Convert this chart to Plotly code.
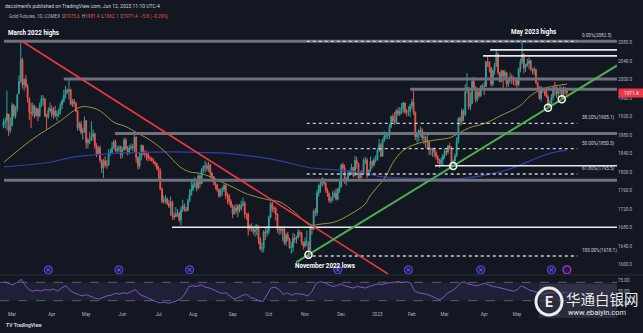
import plotly.graph_objects as go
import pandas as pd

# ---------------- DATA ----------------
holidays = ["2022-04-15", "2022-05-30", "2022-06-20", "2022-07-04", "2022-09-05",
            "2022-11-24", "2022-12-26", "2023-01-02", "2023-01-16", "2023-02-20",
            "2023-04-07", "2023-05-29"]
dates = [d for d in pd.bdate_range("2022-02-22", "2023-06-12")
         if d.strftime("%Y-%m-%d") not in holidays]

opens = [
    1900, 1907, 1911, 1925, 1890,  # Feb 22
    1900, 1944, 1922, 1936, 1970, 1995, 2043, 1988, 2000, 1985, 1958, 1929, 1927, 1943, 1921, 1936, 1921, 1944, 1958, 1958, 1922, 1919, 1933,
    1937, 1924, 1932, 1922, 1925, 1931, 1945, 1954, 1966, 1977, 1974, 1978, 1946, 1953, 1948, 1931, 1896, 1904, 1886, 1889,
    1911, 1863, 1869, 1870, 1876, 1882, 1857, 1840, 1852, 1825, 1809, 1824, 1815, 1815, 1841, 1842, 1853, 1865, 1846, 1850, 1855,
    1837, 1848, 1869, 1850, 1841, 1852, 1854, 1852, 1875, 1831, 1813, 1834, 1857, 1840, 1838, 1838, 1830, 1829, 1824, 1821, 1818,
    1807, 1801, 1763, 1736, 1739, 1742, 1731, 1726, 1735, 1705, 1703, 1709, 1711, 1696, 1719, 1727, 1719, 1717, 1737, 1750,
    1762, 1772, 1775, 1765, 1791, 1775, 1805, 1812, 1813, 1807, 1815, 1797, 1790, 1776, 1771, 1762, 1748, 1761, 1762, 1771, 1749, 1749, 1736,
    1726, 1709, 1722, 1716, 1727, 1720, 1728, 1732, 1709, 1709, 1677, 1683, 1678, 1671, 1675, 1681, 1655, 1634, 1636, 1670, 1668,
    1672, 1702, 1731, 1721, 1721, 1709, 1675, 1676, 1673, 1677, 1648, 1664, 1655, 1636, 1637, 1657, 1654, 1658, 1669, 1668, 1648,
    1640, 1649, 1646, 1631, 1681, 1676, 1715, 1712, 1755, 1771, 1776, 1779, 1776, 1761, 1754, 1738, 1740, 1746, 1754, 1741, 1763,
    1768, 1815, 1809, 1781, 1782, 1798, 1800, 1810, 1792, 1825, 1818, 1787, 1800, 1797, 1825, 1826, 1792, 1804, 1823, 1815, 1826,
    1826, 1846, 1859, 1834, 1869, 1877, 1878, 1878, 1898, 1920, 1910, 1907, 1932, 1926, 1931, 1938, 1949, 1930, 1929, 1932,
    1942, 1951, 1929, 1876, 1880, 1890, 1890, 1874, 1875, 1865, 1866, 1848, 1850, 1850, 1842, 1834, 1825, 1818, 1826,
    1836, 1845, 1843, 1856, 1852, 1820, 1824, 1835, 1868, 1916, 1910, 1932, 1923, 1980, 1982, 1941, 1949, 1996, 1983, 1956, 1973, 1965, 1984,
    1986, 1985, 2038, 2037, 2026, 1990, 2019, 2030, 2055, 2015, 1995, 2019, 2007, 2015, 1990, 2000, 2005, 2000, 1999,
    1999, 1989, 2023, 2038, 2055, 2025, 2030, 2035, 2040, 2023, 2019, 2022, 1994, 1984, 1959, 1981, 1975, 1975, 1963, 1943, 1944, 1961,
    1982, 1979, 1969, 1975, 1981, 1958, 1978, 1975.6,
]
highs = [
    1915, 1918, 1976, 1912, 1918,
    1950, 1947, 1942, 1970, 2009, 2079, 2047, 2003, 2010, 1990, 1962, 1950, 1950, 1945, 1940, 1938, 1950, 1966, 1966, 1960, 1926, 1940, 1950,
    1944, 1940, 1943, 1933, 1937, 1950, 1958, 1978, 1986, 1980, 1998, 1980, 1958, 1958, 1952, 1934, 1909, 1910, 1896, 1920,
    1911, 1874, 1886, 1910, 1892, 1885, 1862, 1856, 1857, 1827, 1828, 1834, 1826, 1849, 1850, 1865, 1870, 1870, 1856, 1858, 1857,
    1854, 1874, 1874, 1856, 1858, 1862, 1860, 1880, 1877, 1833, 1842, 1860, 1858, 1847, 1846, 1842, 1835, 1832, 1830, 1824, 1820,
    1813, 1808, 1766, 1748, 1750, 1745, 1739, 1747, 1738, 1712, 1724, 1720, 1714, 1725, 1740, 1732, 1724, 1742, 1762, 1782,
    1780, 1789, 1782, 1796, 1794, 1808, 1814, 1824, 1820, 1822, 1818, 1800, 1791, 1779, 1774, 1764, 1765, 1768, 1775, 1772, 1755, 1752, 1741,
    1730, 1728, 1731, 1730, 1731, 1738, 1745, 1737, 1711, 1712, 1687, 1689, 1681, 1686, 1687, 1685, 1659, 1647, 1674, 1680, 1683,
    1706, 1735, 1736, 1726, 1725, 1711, 1683, 1683, 1681, 1683, 1668, 1670, 1657, 1648, 1668, 1666, 1662, 1677, 1674, 1670, 1650,
    1658, 1673, 1650, 1684, 1687, 1719, 1722, 1761, 1773, 1783, 1789, 1786, 1777, 1765, 1755, 1747, 1758, 1760, 1764, 1765, 1782,
    1818, 1820, 1816, 1789, 1803, 1805, 1818, 1811, 1835, 1833, 1820, 1802, 1805, 1830, 1833, 1830, 1805, 1833, 1825, 1831, 1836,
    1851, 1871, 1863, 1872, 1888, 1883, 1886, 1904, 1922, 1926, 1930, 1936, 1940, 1940, 1949, 1952, 1950, 1936, 1942, 1947,
    1958, 1975, 1931, 1883, 1892, 1898, 1895, 1881, 1878, 1886, 1866, 1853, 1852, 1853, 1847, 1836, 1829, 1832, 1838,
    1849, 1848, 1858, 1863, 1855, 1827, 1840, 1875, 1918, 1920, 1938, 1935, 1990, 2014, 1983, 1972, 2003, 2006, 1985, 1977, 1976, 1988, 1990,
    1995, 2040, 2051, 2040, 2027, 2022, 2036, 2063, 2058, 2016, 2021, 2020, 2021, 2015, 2004, 2015, 2011, 2007, 2005,
    2005, 2025, 2045, 2083, 2057, 2034, 2045, 2048, 2043, 2025, 2028, 2023, 1994, 1985, 1986, 1983, 1982, 1982, 1967, 1955, 1968, 1985,
    1995, 1985, 1982, 1986, 1983, 1985, 1984, 1981.4,
]
lows = [
    1894, 1895, 1890, 1878, 1884,
    1899, 1917, 1915, 1930, 1968, 1993, 1980, 1975, 1981, 1950, 1912, 1895, 1920, 1916, 1920, 1910, 1918, 1940, 1944, 1918, 1891, 1915, 1929,
    1918, 1915, 1918, 1911, 1918, 1924, 1936, 1950, 1959, 1968, 1957, 1944, 1940, 1941, 1929, 1890, 1889, 1881, 1870, 1884,
    1850, 1851, 1860, 1866, 1868, 1850, 1832, 1837, 1820, 1798, 1787, 1810, 1807, 1813, 1835, 1842, 1850, 1843, 1840, 1843, 1828,
    1830, 1846, 1847, 1836, 1838, 1848, 1845, 1842, 1820, 1805, 1807, 1825, 1836, 1831, 1825, 1823, 1824, 1822, 1817, 1812, 1804,
    1785, 1761, 1732, 1731, 1732, 1728, 1722, 1705, 1697, 1696, 1702, 1703, 1691, 1684, 1713, 1714, 1713, 1715, 1735, 1749,
    1758, 1766, 1758, 1762, 1765, 1773, 1798, 1798, 1802, 1800, 1787, 1780, 1771, 1762, 1757, 1744, 1745, 1749, 1756, 1741, 1731, 1728, 1722,
    1700, 1708, 1710, 1702, 1712, 1716, 1725, 1700, 1696, 1662, 1671, 1671, 1665, 1660, 1663, 1644, 1630, 1625, 1626, 1653, 1660,
    1665, 1700, 1713, 1711, 1695, 1668, 1664, 1665, 1651, 1642, 1640, 1650, 1634, 1623, 1627, 1646, 1645, 1656, 1660, 1642, 1632,
    1636, 1640, 1618.1, 1630, 1664, 1674, 1704, 1705, 1747, 1755, 1768, 1771, 1755, 1746, 1733, 1732, 1736, 1746, 1738, 1739, 1755,
    1766, 1800, 1774, 1771, 1779, 1791, 1797, 1788, 1790, 1807, 1782, 1783, 1787, 1794, 1817, 1786, 1793, 1800, 1808, 1811, 1820,
    1824, 1844, 1833, 1833, 1865, 1870, 1871, 1871, 1895, 1908, 1902, 1904, 1921, 1921, 1925, 1928, 1925, 1920, 1921, 1919,
    1936, 1923, 1869, 1864, 1866, 1876, 1867, 1860, 1852, 1849, 1836, 1836, 1833, 1832, 1827, 1818, 1809, 1812, 1814,
    1829, 1835, 1838, 1848, 1815, 1813, 1818, 1832, 1862, 1900, 1902, 1910, 1920, 1970, 1935, 1934, 1947, 1979, 1950, 1952, 1960, 1962, 1978,
    1966, 1984, 2027, 2015, 1985, 1985, 2010, 2027, 2010, 1994, 1994, 1976, 2002, 1983, 1984, 1993, 1990, 1988, 1986,
    1982, 1985, 2015, 2033, 2013, 2016, 2028, 2022, 2018, 2011, 2010, 1990, 1980, 1956, 1952, 1971, 1965, 1960, 1937, 1940, 1941, 1955,
    1965, 1960, 1960, 1968, 1957, 1958, 1968, 1962.1,
]
closes = [
    1907, 1910, 1926, 1889, 1900,
    1944, 1922, 1936, 1966, 1995, 2043, 1988, 2000, 1985, 1960, 1929, 1927, 1943, 1921, 1936, 1921, 1944, 1958, 1958, 1922, 1919, 1933, 1937,
    1924, 1932, 1922, 1925, 1931, 1945, 1954, 1966, 1977, 1974, 1978, 1946, 1953, 1948, 1931, 1896, 1904, 1886, 1889, 1911,
    1863, 1869, 1868, 1875, 1882, 1857, 1840, 1852, 1825, 1808, 1824, 1815, 1815, 1841, 1842, 1853, 1865, 1846, 1850, 1851, 1837,
    1848, 1869, 1850, 1841, 1852, 1854, 1852, 1875, 1831, 1813, 1834, 1857, 1840, 1838, 1838, 1830, 1829, 1824, 1821, 1818, 1807,
    1801, 1763, 1736, 1739, 1742, 1731, 1726, 1735, 1705, 1703, 1709, 1711, 1696, 1719, 1727, 1719, 1717, 1737, 1750, 1762,
    1772, 1775, 1765, 1791, 1775, 1805, 1812, 1813, 1807, 1815, 1797, 1790, 1776, 1771, 1762, 1748, 1761, 1762, 1771, 1749, 1749, 1736, 1726,
    1709, 1722, 1716, 1727, 1720, 1728, 1732, 1709, 1709, 1677, 1683, 1678, 1671, 1675, 1681, 1655, 1634, 1636, 1670, 1668, 1672,
    1702, 1731, 1721, 1721, 1709, 1675, 1676, 1673, 1677, 1648, 1664, 1655, 1636, 1637, 1657, 1654, 1658, 1669, 1668, 1648, 1640,
    1649, 1650, 1630, 1681, 1676, 1715, 1712, 1755, 1771, 1776, 1779, 1776, 1761, 1754, 1738, 1740, 1746, 1754, 1741, 1763, 1768,
    1815, 1809, 1781, 1782, 1798, 1800, 1810, 1792, 1825, 1818, 1787, 1800, 1797, 1825, 1826, 1792, 1804, 1823, 1815, 1826, 1826,
    1846, 1859, 1834, 1869, 1877, 1878, 1878, 1898, 1920, 1910, 1907, 1932, 1926, 1931, 1938, 1949, 1930, 1929, 1932, 1942,
    1951, 1929, 1876, 1880, 1890, 1890, 1874, 1875, 1865, 1866, 1848, 1850, 1850, 1842, 1834, 1825, 1818, 1826, 1836,
    1845, 1843, 1856, 1852, 1820, 1824, 1835, 1867, 1916, 1910, 1932, 1923, 1973, 1982, 1941, 1949, 1996, 1983, 1956, 1973, 1965, 1984, 1986,
    1985, 2038, 2037, 2026, 1990, 2019, 2030, 2055, 2015, 1995, 2019, 2007, 2015, 1990, 2000, 2005, 2000, 1999, 1999,
    1989, 2023, 2038, 2055, 2025, 2030, 2035, 2040, 2023, 2019, 2022, 1994, 1984, 1959, 1981, 1975, 1975, 1963, 1943, 1944, 1961, 1982,
    1979, 1969, 1975, 1981, 1958, 1978, 1977.2, 1971.4,
]

# moving averages (bar index, price)
ma50_idx = [0.3, 15.4, 32.8, 44.4, 50.2, 56.0, 64.7, 70.5, 76.3, 85.0, 93.7, 102.4, 108.2, 114.0, 119.8,
            125.7, 131.5, 140.2, 143.1, 154.7, 160.5, 169.2, 177.9, 183.7, 192.4, 201.1, 209.8, 212.7,
            221.4, 227.2, 233.0, 241.7, 250.4, 259.1, 264.9, 270.7, 279.5, 288.2, 299.8, 305.6, 312.4, 320, 327]
ma50_val = [1821, 1867, 1910, 1940, 1940, 1932, 1906, 1899, 1887, 1869, 1844, 1811, 1800, 1797, 1790,
            1780, 1770, 1754, 1750, 1739, 1735, 1712, 1685, 1687, 1692, 1708, 1730, 1748,
            1788, 1827, 1849, 1863, 1869, 1874, 1885, 1896, 1905, 1921, 1943, 1964, 1979, 1986, 1990]
ma200_idx = [0.3, 27.0, 38.6, 44.4, 56.0, 70.5, 87.9, 106.3, 125.7, 140.2, 160.5, 177.9, 195.3, 209.8,
             218.5, 241.7, 266.6, 288.2, 299.8, 315.3, 326.9]
ma200_val = [1811, 1821, 1831, 1834, 1838, 1841, 1843, 1843, 1841, 1836, 1824, 1809, 1804, 1798,
             1790, 1786, 1786, 1800, 1815, 1838, 1847]

# RSI(14) (bar index, value)
rsi_idx = [0.4, 2.7, 5.1, 7.5, 10.4, 12.3, 14.7, 17.0, 19.4, 21.8, 24.2, 26.6, 29.0, 31.3, 33.7, 36.1, 38.5,
           40.9, 43.2, 45.6, 48.0, 50.4, 52.8, 55.2, 57.5, 59.9, 62.3, 64.7, 67.1, 69.5, 71.8, 74.2, 76.6,
           79.0, 81.4, 83.8, 86.1, 88.5, 90.9, 93.3, 95.7, 98.1, 100.4, 102.8, 105.2, 107.6, 110.0, 112.4,
           114.7, 117.1, 119.5, 121.9, 124.3, 126.7, 129.0, 131.4, 133.8, 136.2, 138.6, 141.0, 143.3, 145.7,
           148.1, 150.5, 152.9, 155.2, 157.6, 160.0, 162.4, 164.8, 167.2, 169.6, 172.0, 174.3, 176.7, 179.1,
           181.5, 183.8, 186.2, 188.6, 191.0, 193.4, 195.8, 198.1, 200.5, 202.9, 205.3, 207.7, 210.1, 212.4,
           214.8, 217.2, 219.6, 222.0, 224.4, 226.7, 229.1, 231.5, 233.9, 236.3, 238.6, 241.0, 243.4, 245.8,
           248.2, 250.6, 253.0, 255.3, 257.7, 260.1, 262.5, 264.9, 267.2, 269.6, 272.0, 274.4, 276.8, 279.2,
           281.5, 283.9, 286.3, 288.7, 291.1, 293.5, 295.8, 298.2, 300.6, 303.0, 305.4, 307.8, 310.1, 312.5,
           314.9, 317.3, 319.7, 322.1, 324.4, 327.0]
rsi_val = [71.4, 67.9, 64.5, 69.3, 76.2, 64.5, 54.1, 50.7, 52.7, 50.7, 54.1, 52.7, 55.5, 50.7, 57.6, 62.4, 52.7,
           47.2, 43.8, 40.3, 43.1, 39.0, 36.2, 33.4, 36.9, 40.3, 41.7, 45.8, 44.5, 47.2, 45.8, 50.0, 54.1,
           43.8, 40.3, 36.9, 32.1, 27.9, 25.2, 26.5, 24.5, 26.5, 30.0, 33.4, 43.8, 61.0, 62.4, 61.0,
           64.5, 59.6, 57.6, 54.1, 50.7, 45.8, 47.2, 40.3, 33.4, 36.9, 41.7, 43.8, 36.9, 34.8,
           30.0, 27.9, 43.8, 57.6, 59.6, 54.1, 43.8, 47.2, 41.7, 45.8, 44.5, 43.8, 40.3, 50.7,
           67.9, 71.4, 69.3, 64.5, 61.0, 62.4, 66.5, 62.4, 59.6, 57.6, 61.0, 59.6, 57.6, 61.0,
           64.5, 66.5, 64.5, 67.9, 69.3, 70.7, 71.4, 69.3, 71.4, 67.9, 50.7, 47.2, 45.8, 43.8,
           40.3, 36.9, 32.1, 36.9, 47.2, 50.7, 57.6, 67.9, 71.4, 66.5, 64.5, 62.4, 64.5, 67.9,
           64.5, 61.0, 59.6, 57.6, 54.1, 52.7, 50.7, 54.1, 62.4, 57.6, 52.7, 50.7, 47.2, 43.8,
           45.8, 48.1, 47.2, 45.8, 47.2, 48.1]

# drawings: horizontal levels (price, starting bar)
grey_level = [2082.5, 2001.0, 1883.0, 1782.0, 1979.0]
grey_start = [0.3, 35.0, 64.7, 0.3, 236.0]
white_level = [1680.2, 1813.5, 2064.0, 2051.0]
white_start = [97.8, 250.4, 282.4, 278.3]
fib_level = [2082.5, 1905.1, 1850.3, 1795.5, 1618.1]
fib_label = ["0.00%(2082.5)", "38.20%(1905.1)", "50.00%(1850.3)", "61.80%(1795.5)", "100.00%(1618.1)"]
fib_span = [176.0, 333.0]
red_trend_idx = [10.56, 223.2]
red_trend_price = [2083.2, 1579.2]
green_anchor_idx = [177, 324]
green_anchor_price = [1621.0, 1957.0]
green_span = [169.8, 356.1]
touch_idx = [177, 261, 316, 324]
rollover_idx = [26, 67, 108, 194, 235, 277, 318]
news_idx = [327]
last_price = 1971.4

# ---------------- LAYOUT HELPERS ----------------
W, H = 643, 333
X0, X1 = -2.03, 356.06
XD = 617 / W
def py(y):  # pixel row -> paper
    return 1 - y / H
def px(x):
    return x / W

Y_MAIN = [1579.2, 2148.1]
Y_RSI = [9.8, 83.7]

n = min(len(dates), len(opens), len(highs), len(lows), len(closes))
idx = list(range(n))

# month ticks
tick_vals, tick_text = [], []
for i in range(1, n):
    if dates[i].month != dates[i - 1].month:
        tick_vals.append(i)
        tick_text.append("2023" if (dates[i].month == 1) else dates[i].strftime("%b"))

fig = go.Figure()

fig.add_trace(go.Candlestick(
    x=idx, open=opens[:n], high=highs[:n], low=lows[:n], close=closes[:n],
    increasing=dict(line=dict(color="#26a69a", width=1), fillcolor="#26a69a"),
    decreasing=dict(line=dict(color="#ef5350", width=1), fillcolor="#ef5350"),
    whiskerwidth=0, hoverinfo="skip", xaxis="x", yaxis="y"))

fig.add_trace(go.Scatter(x=ma200_idx, y=ma200_val, mode="lines", line=dict(color="#2f3fa6", width=1.2, shape="spline"),
                         hoverinfo="skip", xaxis="x", yaxis="y"))
fig.add_trace(go.Scatter(x=ma50_idx, y=ma50_val, mode="lines", line=dict(color="#9a9440", width=1, shape="spline"),
                         hoverinfo="skip", xaxis="x", yaxis="y"))

for lv, st in zip(grey_level, grey_start):
    fig.add_trace(go.Scatter(x=[st, X1], y=[lv, lv], mode="lines", line=dict(color="#6e717b", width=3),
                             hoverinfo="skip", xaxis="x", yaxis="y"))
for lv, st in zip(white_level, white_start):
    fig.add_trace(go.Scatter(x=[st, X1], y=[lv, lv], mode="lines", line=dict(color="#e6e8ee", width=1.6),
                             hoverinfo="skip", xaxis="x", yaxis="y"))
for lv in fib_level:
    fig.add_trace(go.Scatter(x=fib_span, y=[lv, lv], mode="lines", line=dict(color="#c9ccd4", width=1.4, dash="dot"),
                             hoverinfo="skip", xaxis="x", yaxis="y"))

fig.add_trace(go.Scatter(x=red_trend_idx, y=red_trend_price, mode="lines", line=dict(color="#f23645", width=1.5),
                         hoverinfo="skip", xaxis="x", yaxis="y"))
slope = (green_anchor_price[1] - green_anchor_price[0]) / (green_anchor_idx[1] - green_anchor_idx[0])
g_y = [green_anchor_price[0] + slope * (g - green_anchor_idx[0]) for g in green_span]
fig.add_trace(go.Scatter(x=green_span, y=g_y, mode="lines", line=dict(color="#4caf50", width=2),
                         hoverinfo="skip", xaxis="x", yaxis="y"))
t_y = [green_anchor_price[0] + slope * (t - green_anchor_idx[0]) for t in touch_idx]
fig.add_trace(go.Scatter(x=touch_idx, y=t_y, mode="markers",
                         marker=dict(symbol="circle-open", size=7, color="#ffffff", line=dict(width=1.5, color="#ffffff")),
                         hoverinfo="skip", xaxis="x", yaxis="y"))

ev_y = Y_MAIN[0] + 0.016 * (Y_MAIN[1] - Y_MAIN[0])
fig.add_trace(go.Scatter(x=rollover_idx, y=[ev_y] * len(rollover_idx), mode="markers",
                         marker=dict(symbol="circle", size=8, color="#211a45", line=dict(width=1.2, color="#5b3fd0")),
                         hoverinfo="skip", xaxis="x", yaxis="y"))
fig.add_trace(go.Scatter(x=rollover_idx, y=[ev_y] * len(rollover_idx), mode="markers",
                         marker=dict(symbol="x-thin-open", size=3.5, color="#7b61ff", line=dict(width=1, color="#7b61ff")),
                         hoverinfo="skip", xaxis="x", yaxis="y"))
fig.add_trace(go.Scatter(x=news_idx, y=[ev_y] * len(news_idx), mode="markers",
                         marker=dict(symbol="circle", size=8, color="#2a1840", line=dict(width=1.2, color="#9c3fd0")),
                         hoverinfo="skip", xaxis="x", yaxis="y"))

# RSI
fig.add_trace(go.Scatter(x=rsi_idx, y=rsi_val, mode="lines", line=dict(color="#7e57c2", width=1),
                         hoverinfo="skip", xaxis="x2", yaxis="y2"))

shapes = [
    dict(type="rect", xref="x2 domain", yref="y2", x0=0, x1=1, y0=30, y1=70,
         fillcolor="rgba(126,87,194,0.12)", line=dict(width=0), layer="below"),
    dict(type="line", xref="x2 domain", yref="y2", x0=0, x1=1, y0=70, y1=70,
         line=dict(color="#5d606b", width=1, dash="dash"), layer="below"),
    dict(type="line", xref="x2 domain", yref="y2", x0=0, x1=1, y0=30, y1=30,
         line=dict(color="#5d606b", width=1, dash="dash"), layer="below"),
    dict(type="line", xref="paper", yref="paper", x0=0, x1=1, y0=py(275), y1=py(275),
         line=dict(color="#2a2e39", width=1)),
    # watermark backdrop + logo ring
    dict(type="rect", xref="paper", yref="paper", x0=px(539), x1=px(617), y0=py(318), y1=py(284),
         fillcolor="rgba(60,62,78,0.55)", line=dict(width=0)),
    dict(type="circle", xref="paper", yref="paper", x0=px(536), x1=px(562), y0=py(315), y1=py(288),
         line=dict(color="rgba(255,255,255,0.92)", width=3)),
]

red = "#ef5350"
ann = [
    dict(text="dacolmenfx published on TradingView.com, Jun 12, 2023 11:10 UTC-4", x=px(3), y=py(6),
         xanchor="left", yanchor="middle", font=dict(size=5, color="#d1d4dc")),
    dict(text=("Gold Futures, 1D, COMEX  O<span style='color:%s'>1975.6</span>  H<span style='color:%s'>1981.4</span>"
               "  L<span style='color:%s'>1962.1</span>  C<span style='color:%s'>1971.4</span>"
               "  <span style='color:%s'>−5.8 (−0.29%%)</span>") % (red, red, red, red, red),
         x=px(7), y=py(16.5), xanchor="left", yanchor="middle", font=dict(size=4.6, color="#b2b5be")),
    dict(text="<b>March 2022 highs</b>", x=px(6), y=py(33), xanchor="left", yanchor="middle",
         font=dict(size=6.3, color="#ffffff")),
    dict(text="<b>May 2023 highs</b>", x=px(533), y=py(32), xanchor="center", yanchor="middle",
         font=dict(size=6.3, color="#ffffff")),
    dict(text="<b>November 2022 lows</b>", x=px(325), y=py(266), xanchor="center", yanchor="middle",
         font=dict(size=6.3, color="#ffffff")),
    dict(text="华通白银网", x=px(564), y=py(298), xanchor="left", yanchor="middle",
         font=dict(size=14.5, color="rgba(255,255,255,0.92)", family="Noto Sans CJK SC")),
    dict(text="www.ebaiyin.com", x=px(566), y=py(312), xanchor="left", yanchor="middle",
         font=dict(size=7.4, color="rgba(255,255,255,0.92)")),
    dict(text="<b>E</b>", x=px(549), y=py(301.5), xanchor="center", yanchor="middle",
         font=dict(size=14, color="rgba(255,255,255,0.92)")),
    dict(text="<b>TV</b> <b>TradingView</b>", x=px(4), y=py(325), xanchor="left", yanchor="middle",
         font=dict(size=5, color="#d1d4dc")),
    dict(text=f"{last_price:.1f}", x=XD, xref="paper", y=last_price, yref="y", xanchor="left", yanchor="middle",
         xshift=1, bgcolor="#f23645", borderpad=1.5, font=dict(size=4.8, color="#ffffff"), width=22),
]
for lv, lb in zip(fib_level, fib_label):
    ann.append(dict(text=lb, x=334.6, xref="x", y=lv, yref="y", xanchor="left", yanchor="bottom",
                    font=dict(size=4.6, color="#d1d4dc")))
for a in ann:
    a.setdefault("xref", "paper")
    a.setdefault("yref", "paper")
    a["showarrow"] = False

axis_font = dict(size=4.6, color="#b2b5be")
fig.update_layout(
    width=W, height=H, margin=dict(l=0, r=0, t=0, b=0),
    paper_bgcolor="#131722", plot_bgcolor="#131722",
    font=dict(family="Roboto, DejaVu Sans, sans-serif"),
    showlegend=False,
    xaxis=dict(domain=[0, XD], range=[X0, X1], anchor="y", showgrid=False, zeroline=False,
               showticklabels=False, rangeslider=dict(visible=False), fixedrange=True),
    yaxis=dict(domain=[py(274), py(11)], range=Y_MAIN, anchor="x", side="right", showgrid=False,
               zeroline=False, tickvals=list(range(1600, 2081, 40)),
               ticktext=["%.1f" % v for v in range(1600, 2081, 40)], tickfont=axis_font, ticks=""),
    xaxis2=dict(domain=[0, XD], range=[X0, X1], anchor="y2", matches="x", showgrid=False, zeroline=False,
                tickvals=tick_vals, ticktext=tick_text, tickfont=axis_font, ticks=""),
    yaxis2=dict(domain=[py(310), py(276)], range=Y_RSI, anchor="x2", side="right", showgrid=False,
                zeroline=False, tickvals=[25, 50, 75], ticktext=["25.00", "50.00", "75.00"],
                tickfont=axis_font, ticks=""),
    shapes=shapes, annotations=ann,
)

fig.write_html("out.html")
